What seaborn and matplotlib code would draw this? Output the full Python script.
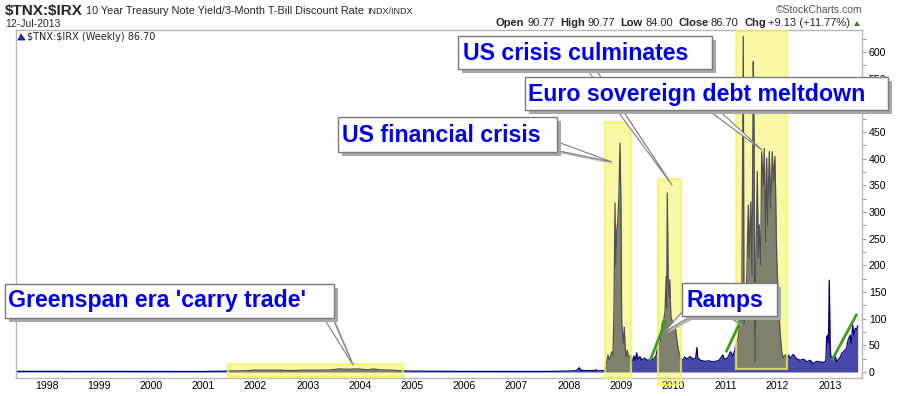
import numpy as np
import pandas as pd
import matplotlib
matplotlib.use("Agg")
import matplotlib.pyplot as plt
import seaborn as sns
from matplotlib.patches import Rectangle, Polygon
from matplotlib.transforms import Affine2D
from matplotlib.ticker import MultipleLocator

# weekly $TNX:$IRX ratio (decimal year, ratio)
years = [1997.42, 1997.7, 1998.0, 1998.5, 1998.8, 1999.0, 1999.5, 2000.0, 2000.5, 2000.9,
         2000.98, 2001.05, 2001.3, 2001.6, 2001.9, 2001.95, 2002.5, 2002.55, 2002.8, 2002.85,
         2003.4, 2003.5, 2003.6, 2003.75, 2003.9, 2004.0, 2004.15, 2004.25, 2004.35, 2004.6,
         2004.8, 2005.0, 2005.5, 2006.0, 2006.5, 2007.0, 2007.5, 2007.8, 2008.0, 2008.15,
         2008.2, 2008.24, 2008.4, 2008.5, 2008.52, 2008.55, 2008.68, 2008.70,
         2008.726, 2008.751, 2008.78, 2008.822, 2008.847, 2008.866, 2008.885, 2008.90, 2008.918, 2008.937,
         2008.96, 2008.981, 2009.0, 2009.013, 2009.03, 2009.044, 2009.063, 2009.08, 2009.096, 2009.121,
         2009.14, 2009.159, 2009.186, 2009.20,
         2009.22, 2009.25, 2009.27, 2009.30, 2009.32, 2009.36, 2009.40, 2009.45, 2009.50, 2009.56,
         2009.62, 2009.67, 2009.70, 2009.75, 2009.79, 2009.82, 2009.845, 2009.865, 2009.875, 2009.887,
         2009.905, 2009.92, 2009.935, 2009.955, 2009.99, 2010.04, 2010.07, 2010.10, 2010.14, 2010.18,
         2010.22, 2010.26, 2010.32, 2010.38, 2010.43, 2010.455, 2010.47, 2010.52, 2010.60, 2010.68,
         2010.75, 2010.82, 2010.88, 2010.95, 2010.98, 2011.04, 2011.10, 2011.14, 2011.18, 2011.21,
         2011.247, 2011.28, 2011.312, 2011.343, 2011.356, 2011.395, 2011.439, 2011.458, 2011.485, 2011.51,
         2011.534, 2011.548, 2011.567, 2011.586, 2011.611, 2011.63, 2011.649, 2011.676, 2011.695, 2011.726,
         2011.745, 2011.772, 2011.791, 2011.81, 2011.841, 2011.868, 2011.898, 2011.925, 2011.95, 2011.983,
         2012.013, 2012.046, 2012.079, 2012.109, 2012.142, 2012.175, 2012.205, 2012.24, 2012.27, 2012.30,
         2012.36, 2012.43, 2012.50, 2012.557, 2012.62, 2012.684, 2012.75, 2012.81, 2012.88, 2012.908,
         2012.925, 2012.94, 2012.958, 2012.975, 2012.99, 2013.005, 2013.017, 2013.05, 2013.10, 2013.13,
         2013.20, 2013.23, 2013.29, 2013.32, 2013.35, 2013.39, 2013.41, 2013.44, 2013.46, 2013.49,
         2013.515, 2013.534]
ratio = [1.2, 1.1, 1.2, 1.1, 1.0, 1.2, 1.1, 1.1, 1.0, 0.9,
         0.8, 1.1, 1.4, 2.0, 2.6, 3.5, 3.5, 2.8, 2.8, 3.4,
         3.6, 4.5, 5.8, 5.0, 5.8, 5.5, 4.0, 5.8, 4.2, 3.5,
         2.2, 1.6, 1.3, 1.1, 1.0, 0.95, 1.0, 1.3, 1.8, 2.5,
         8, 3, 2.5, 3, 4, 2, 2.5, 8,
         19, 32, 22, 38, 30, 120, 317, 200, 266, 280,
         330, 429, 304, 92, 70, 54, 84, 45, 28, 41,
         30, 28, 32, 18,
         22, 30, 21, 36, 24, 29, 22, 26, 22, 23,
         24, 30, 45, 55, 92, 97, 116, 179, 120, 335,
         167, 141, 173, 104, 92, 85, 60, 41, 26, 22,
         28, 24, 29, 24, 26, 46, 26, 22, 20, 21,
         19, 20, 22, 32, 24, 26, 38, 30, 41, 54,
         64, 101, 107, 629, 88, 113, 313, 214, 319, 182,
         582, 463, 19, 214, 376, 214, 276, 201, 413, 351,
         419, 244, 401, 276, 413, 307, 413, 357, 404, 214,
         139, 76, 38, 26, 32, 28, 32, 26, 29, 33,
         25, 22, 24, 19, 22, 16, 20, 19, 18, 19,
         22, 66, 69, 55, 172, 60, 30, 26, 32, 19,
         28, 35, 41, 44, 60, 69, 54, 88, 69, 82,
         79, 86.7]

tick_years = list(range(1998, 2014))
y_ticks = list(range(0, 601, 50))

# yellow highlight boxes: start, end, bottom, top
hl_start = [2001.47, 2008.69, 2009.71, 2011.20]
hl_end = [2004.82, 2009.19, 2010.15, 2012.18]
hl_low = [-9, -11, -24, 6]
hl_high = [15, 469, 362, 640]

# green "ramp" strokes
ramp_x0 = [2009.56, 2011.01, 2013.04]
ramp_y0 = [22, 37, 22]
ramp_x1 = [2009.86, 2011.32, 2013.52]
ramp_y1 = [97, 101, 109]

callout_text = ["US crisis culminates", "Euro sovereign debt meltdown", "US financial crisis",
                "Greenspan era 'carry trade'", "Ramps"]

W, H = 900, 396
sns.set_theme(style="white")
plt.rcParams['font.family'] = ['Liberation Sans', 'DejaVu Sans']

fig = plt.figure(figsize=(W / 100, H / 100), dpi=100)
px = Affine2D().scale(1 / W, -1 / H).translate(0, 1) + fig.transFigure

ax = fig.add_axes([16 / W, 1 - 378 / H, (862 - 16) / W, (378 - 30) / H])
df = pd.DataFrame({"year": years, "ratio": ratio})
ax.fill_between(df["year"], 0, df["ratio"], color="#4848a8", lw=0, zorder=1)
sns.lineplot(data=df, x="year", y="ratio", ax=ax, color="#000080", lw=0.9,
             estimator=None, zorder=2)

for s, e, lo, hi in zip(hl_start, hl_end, hl_low, hl_high):
    ax.add_patch(Rectangle((s, lo), e - s, hi - lo, fc=(0.92, 0.92, 0.02, 0.35),
                           ec=(0.96, 0.96, 0.35, 0.75), lw=1.6, zorder=3, clip_on=False))

for x0, y0, x1, y1 in zip(ramp_x0, ramp_y0, ramp_x1, ramp_y1):
    ax.plot([x0, x1], [y0, y1], color="#3f9c1c", lw=2.0, zorder=4, solid_capstyle="butt")

ax.set_xlim(1997.41, 2013.617)
ax.set_ylim(-11.25, 641)
ax.set_xticks(tick_years)
ax.set_xticklabels([str(y) for y in tick_years])
ax.set_yticks(y_ticks)
ax.yaxis.set_minor_locator(MultipleLocator(25))
ax.yaxis.tick_right()
ax.tick_params(axis="x", length=0, labelsize=7.6, pad=2, colors="black")
ax.tick_params(axis="y", which="both", direction="out", length=3, width=0.8,
               color="#a0a0a0", labelsize=7.6, pad=2, labelcolor="black")
ax.set_xlabel("")
ax.set_ylabel("")
for sp in ax.spines.values():
    sp.set_color("#b8b8b8")
    sp.set_linewidth(1.0)


def callout(text, box, tx, ty, pointers, z):
    x0, y0, x1, y1 = box
    for base, tip in pointers:
        sh = [(p[0] + 3, p[1] + 3) for p in base] + [(tip[0] + 2, tip[1] + 2)]
        fig.add_artist(Polygon(sh, closed=True, fc="#b8b8b8", ec="none", transform=px, zorder=z))
        fig.add_artist(Polygon(list(base) + [tip], closed=True, fc="white", ec="#808080",
                               lw=0.8, transform=px, zorder=z + 0.1))
    fig.add_artist(Rectangle((x0 + 4, y0 + 4), x1 - x0, y1 - y0, fc="#a8a8a8", ec="none",
                             transform=px, zorder=z + 0.2))
    fig.add_artist(Rectangle((x0, y0), x1 - x0, y1 - y0, fc="white", ec="#7a7a7a", lw=1.0,
                             transform=px, zorder=z + 0.3))
    fig.text(tx, ty, text, transform=px, ha="left", va="center", fontsize=16.7,
             fontweight="bold", color="#0000ee", zorder=z + 0.4)


callout(callout_text[0], (458, 36, 712, 69), 463, 53,
        [([(583, 64), (592, 64)], (672, 185))], 10)
callout(callout_text[1], (525, 77, 888, 110), 528, 94,
        [([(700, 104), (712, 104)], (762, 150))], 11)
callout(callout_text[2], (338, 117, 557, 152), 342, 135,
        [([(545, 148), (555, 141)], (612, 162))], 12)
callout(callout_text[3], (5, 284, 334, 318), 8, 301,
        [([(320, 312), (330, 312)], (353, 365))], 12)
callout(callout_text[4], (682, 283, 777, 316), 686, 300,
        [([(686, 308), (698, 312)], (664, 332)), ([(722, 312), (732, 310)], (740, 324))], 12)

# header
fig.text(5, 11, r"\$TNX:\$IRX", transform=px, fontsize=11, fontweight="bold", va="center")
fig.text(86, 11, "10 Year Treasury Note Yield/3-Month T-Bill Discount Rate", transform=px,
         fontsize=7.8, va="center")
fig.text(367, 11, "INDX/INDX", transform=px, fontsize=6.5, va="center")
fig.text(5, 24, "12-Jul-2013", transform=px, fontsize=7.5, va="center")
fig.text(862, 10, "\u00a9StockCharts.com", transform=px, fontsize=7.5, va="center",
         ha="right", color="#555555")

renderer = fig.canvas.get_renderer()
hdr = [("Open", True), ("90.77", False), ("High", True), ("90.77", False),
       ("Low", True), ("84.00", False), ("Close", True), ("86.70", False),
       ("Chg", True), ("+9.13 (+11.77%)", False)]
x = 496
for i, (s, b) in enumerate(hdr):
    t = fig.text(x, 23, s, transform=px, fontsize=8.0, va="center",
                 fontweight="bold" if b else "normal")
    w = t.get_window_extent(renderer).width
    x += w + (2.5 if b else 5.5)
fig.add_artist(Polygon([(854, 26), (860, 26), (857, 21)], closed=True, fc="#2e8b2e",
                       ec="none", transform=px))
fig.add_artist(Polygon([(18, 40), (21, 34), (23, 37), (25, 40)], closed=True, fc="#3030a0",
                       ec="#000080", lw=0.5, transform=px, zorder=5))
fig.text(27, 37, r"\$TNX:\$IRX (Weekly) 86.70", transform=px, fontsize=7, va="center",
         family="DejaVu Sans", zorder=5)

fig.savefig("out.png", dpi=100)
